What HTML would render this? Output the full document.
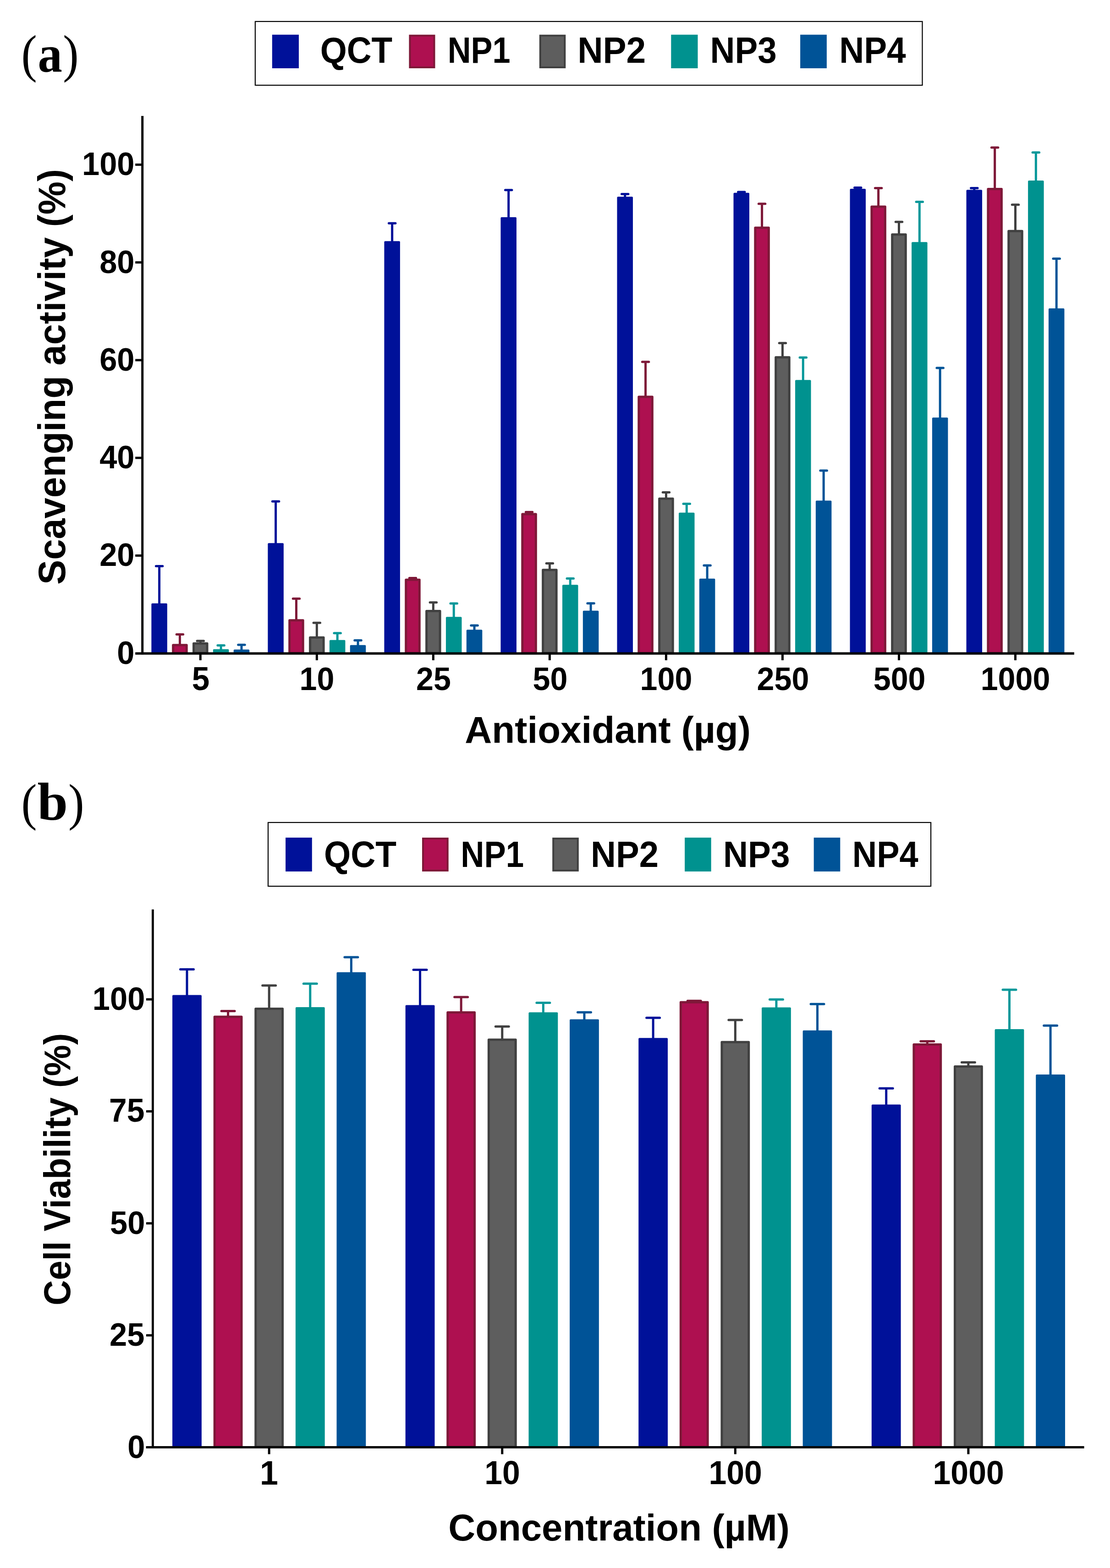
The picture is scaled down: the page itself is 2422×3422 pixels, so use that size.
<!DOCTYPE html>
<html><head><meta charset="utf-8"><title>Figure</title>
<style>html,body{margin:0;padding:0;background:#fff;}svg{display:block;}</style>
</head><body>
<svg width="2422" height="3422" viewBox="0 0 2422 3422">
<rect width="2422" height="3422" fill="#fff"/>
<path d="M347.60 1319.35V1235.45M340.35 1235.45H354.85" stroke="#001199" stroke-width="5" stroke-linecap="round" fill="none"/>
<rect x="330.35" y="1316.75" width="34.50" height="111.05" rx="2" fill="#001199"/>
<path d="M392.45 1407.75V1384.42M385.20 1384.42H399.70" stroke="#7E1838" stroke-width="5" stroke-linecap="round" fill="none"/>
<rect x="377.70" y="1407.65" width="29.50" height="17.65" fill="#AE1050" stroke="#7E1838" stroke-width="5" stroke-linejoin="round"/>
<path d="M437.30 1404.34V1398.71M430.05 1398.71H444.55" stroke="#404040" stroke-width="5" stroke-linecap="round" fill="none"/>
<rect x="422.55" y="1404.24" width="29.50" height="21.06" fill="#5E5E5E" stroke="#404040" stroke-width="5" stroke-linejoin="round"/>
<path d="M482.15 1419.27V1408.52M474.90 1408.52H489.40" stroke="#06989A" stroke-width="5" stroke-linecap="round" fill="none"/>
<rect x="464.90" y="1416.67" width="34.50" height="11.13" rx="2" fill="#00928F"/>
<path d="M527.00 1420.12V1407.35M519.75 1407.35H534.25" stroke="#005397" stroke-width="5" stroke-linecap="round" fill="none"/>
<rect x="509.75" y="1417.52" width="34.50" height="10.28" rx="2" fill="#005397"/>
<path d="M601.63 1187.86V1094.15M594.38 1094.15H608.88" stroke="#001199" stroke-width="5" stroke-linecap="round" fill="none"/>
<rect x="584.38" y="1185.26" width="34.50" height="242.54" rx="2" fill="#001199"/>
<path d="M646.48 1353.79V1306.47M639.23 1306.47H653.73" stroke="#7E1838" stroke-width="5" stroke-linecap="round" fill="none"/>
<rect x="631.73" y="1353.69" width="29.50" height="71.61" fill="#AE1050" stroke="#7E1838" stroke-width="5" stroke-linejoin="round"/>
<path d="M691.33 1391.33V1359.26M684.08 1359.26H698.58" stroke="#404040" stroke-width="5" stroke-linecap="round" fill="none"/>
<rect x="676.58" y="1391.23" width="29.50" height="34.07" fill="#5E5E5E" stroke="#404040" stroke-width="5" stroke-linejoin="round"/>
<path d="M736.18 1399.33V1381.76M728.93 1381.76H743.43" stroke="#06989A" stroke-width="5" stroke-linecap="round" fill="none"/>
<rect x="718.93" y="1396.73" width="34.50" height="31.07" rx="2" fill="#00928F"/>
<path d="M781.03 1410.31V1397.43M773.78 1397.43H788.28" stroke="#005397" stroke-width="5" stroke-linecap="round" fill="none"/>
<rect x="763.78" y="1407.71" width="34.50" height="20.09" rx="2" fill="#005397"/>
<path d="M855.66 528.82V487.37M848.41 487.37H862.91" stroke="#001199" stroke-width="5" stroke-linecap="round" fill="none"/>
<rect x="838.41" y="526.22" width="34.50" height="901.58" rx="2" fill="#001199"/>
<path d="M900.51 1265.28V1261.57M893.26 1261.57H907.76" stroke="#7E1838" stroke-width="5" stroke-linecap="round" fill="none"/>
<rect x="885.76" y="1265.18" width="29.50" height="160.12" fill="#AE1050" stroke="#7E1838" stroke-width="5" stroke-linejoin="round"/>
<path d="M945.36 1333.64V1314.79M938.11 1314.79H952.61" stroke="#404040" stroke-width="5" stroke-linecap="round" fill="none"/>
<rect x="930.61" y="1333.54" width="29.50" height="91.76" fill="#5E5E5E" stroke="#404040" stroke-width="5" stroke-linejoin="round"/>
<path d="M990.21 1348.78V1317.03M982.96 1317.03H997.46" stroke="#06989A" stroke-width="5" stroke-linecap="round" fill="none"/>
<rect x="972.96" y="1346.18" width="34.50" height="81.62" rx="2" fill="#00928F"/>
<path d="M1035.06 1376.93V1365.02M1027.81 1365.02H1042.31" stroke="#005397" stroke-width="5" stroke-linecap="round" fill="none"/>
<rect x="1017.81" y="1374.33" width="34.50" height="53.47" rx="2" fill="#005397"/>
<path d="M1109.69 476.57V414.85M1102.44 414.85H1116.94" stroke="#001199" stroke-width="5" stroke-linecap="round" fill="none"/>
<rect x="1092.44" y="473.97" width="34.50" height="953.83" rx="2" fill="#001199"/>
<path d="M1154.54 1122.17V1117.50M1147.29 1117.50H1161.79" stroke="#7E1838" stroke-width="5" stroke-linecap="round" fill="none"/>
<rect x="1139.79" y="1122.07" width="29.50" height="303.23" fill="#AE1050" stroke="#7E1838" stroke-width="5" stroke-linejoin="round"/>
<path d="M1199.39 1243.74V1229.48M1192.14 1229.48H1206.64" stroke="#404040" stroke-width="5" stroke-linecap="round" fill="none"/>
<rect x="1184.64" y="1243.64" width="29.50" height="181.66" fill="#5E5E5E" stroke="#404040" stroke-width="5" stroke-linejoin="round"/>
<path d="M1244.24 1278.93V1262.53M1236.99 1262.53H1251.49" stroke="#06989A" stroke-width="5" stroke-linecap="round" fill="none"/>
<rect x="1226.99" y="1276.33" width="34.50" height="151.47" rx="2" fill="#00928F"/>
<path d="M1289.09 1335.24V1316.71M1281.84 1316.71H1296.34" stroke="#005397" stroke-width="5" stroke-linecap="round" fill="none"/>
<rect x="1271.84" y="1332.64" width="34.50" height="95.16" rx="2" fill="#005397"/>
<path d="M1363.72 431.78V423.38M1356.47 423.38H1370.97" stroke="#001199" stroke-width="5" stroke-linecap="round" fill="none"/>
<rect x="1346.47" y="429.18" width="34.50" height="998.62" rx="2" fill="#001199"/>
<path d="M1408.57 866.13V789.80M1401.32 789.80H1415.82" stroke="#7E1838" stroke-width="5" stroke-linecap="round" fill="none"/>
<rect x="1393.82" y="866.03" width="29.50" height="559.27" fill="#AE1050" stroke="#7E1838" stroke-width="5" stroke-linejoin="round"/>
<path d="M1453.42 1088.36V1074.53M1446.17 1074.53H1460.67" stroke="#404040" stroke-width="5" stroke-linecap="round" fill="none"/>
<rect x="1438.67" y="1088.26" width="29.50" height="337.04" fill="#5E5E5E" stroke="#404040" stroke-width="5" stroke-linejoin="round"/>
<path d="M1498.27 1121.42V1099.48M1491.02 1099.48H1505.52" stroke="#06989A" stroke-width="5" stroke-linecap="round" fill="none"/>
<rect x="1481.02" y="1118.82" width="34.50" height="308.98" rx="2" fill="#00928F"/>
<path d="M1543.12 1265.28V1233.95M1535.87 1233.95H1550.37" stroke="#005397" stroke-width="5" stroke-linecap="round" fill="none"/>
<rect x="1525.87" y="1262.68" width="34.50" height="165.12" rx="2" fill="#005397"/>
<path d="M1617.75 423.25V419.12M1610.50 419.12H1625.00" stroke="#001199" stroke-width="5" stroke-linecap="round" fill="none"/>
<rect x="1600.50" y="420.65" width="34.50" height="1007.15" rx="2" fill="#001199"/>
<path d="M1662.60 497.05V444.71M1655.35 444.71H1669.85" stroke="#7E1838" stroke-width="5" stroke-linecap="round" fill="none"/>
<rect x="1647.85" y="496.95" width="29.50" height="928.35" fill="#AE1050" stroke="#7E1838" stroke-width="5" stroke-linejoin="round"/>
<path d="M1707.45 779.96V748.64M1700.20 748.64H1714.70" stroke="#404040" stroke-width="5" stroke-linecap="round" fill="none"/>
<rect x="1692.70" y="779.86" width="29.50" height="645.44" fill="#5E5E5E" stroke="#404040" stroke-width="5" stroke-linejoin="round"/>
<path d="M1752.30 831.90V780.31M1745.05 780.31H1759.55" stroke="#06989A" stroke-width="5" stroke-linecap="round" fill="none"/>
<rect x="1735.05" y="829.30" width="34.50" height="598.50" rx="2" fill="#00928F"/>
<path d="M1797.15 1095.19V1027.07M1789.90 1027.07H1804.40" stroke="#005397" stroke-width="5" stroke-linecap="round" fill="none"/>
<rect x="1779.90" y="1092.59" width="34.50" height="335.21" rx="2" fill="#005397"/>
<path d="M1871.78 414.72V409.52M1864.53 409.52H1879.03" stroke="#001199" stroke-width="5" stroke-linecap="round" fill="none"/>
<rect x="1854.53" y="412.12" width="34.50" height="1015.68" rx="2" fill="#001199"/>
<path d="M1916.63 450.98V410.59M1909.38 410.59H1923.88" stroke="#7E1838" stroke-width="5" stroke-linecap="round" fill="none"/>
<rect x="1901.88" y="450.88" width="29.50" height="974.42" fill="#AE1050" stroke="#7E1838" stroke-width="5" stroke-linejoin="round"/>
<path d="M1961.48 511.76V484.17M1954.23 484.17H1968.73" stroke="#404040" stroke-width="5" stroke-linecap="round" fill="none"/>
<rect x="1946.73" y="511.66" width="29.50" height="913.64" fill="#5E5E5E" stroke="#404040" stroke-width="5" stroke-linejoin="round"/>
<path d="M2006.33 530.96V440.45M1999.08 440.45H2013.58" stroke="#06989A" stroke-width="5" stroke-linecap="round" fill="none"/>
<rect x="1989.08" y="528.36" width="34.50" height="899.44" rx="2" fill="#00928F"/>
<path d="M2051.18 913.80V802.92M2043.93 802.92H2058.43" stroke="#005397" stroke-width="5" stroke-linecap="round" fill="none"/>
<rect x="2033.93" y="911.20" width="34.50" height="516.60" rx="2" fill="#005397"/>
<path d="M2125.81 416.85V410.59M2118.56 410.59H2133.06" stroke="#001199" stroke-width="5" stroke-linecap="round" fill="none"/>
<rect x="2108.56" y="414.25" width="34.50" height="1013.55" rx="2" fill="#001199"/>
<path d="M2170.66 412.59V322.08M2163.41 322.08H2177.91" stroke="#7E1838" stroke-width="5" stroke-linecap="round" fill="none"/>
<rect x="2155.91" y="412.49" width="29.50" height="1012.81" fill="#AE1050" stroke="#7E1838" stroke-width="5" stroke-linejoin="round"/>
<path d="M2215.51 504.30V446.84M2208.26 446.84H2222.76" stroke="#404040" stroke-width="5" stroke-linecap="round" fill="none"/>
<rect x="2200.76" y="504.20" width="29.50" height="921.10" fill="#5E5E5E" stroke="#404040" stroke-width="5" stroke-linejoin="round"/>
<path d="M2260.36 396.59V332.74M2253.11 332.74H2267.61" stroke="#06989A" stroke-width="5" stroke-linecap="round" fill="none"/>
<rect x="2243.11" y="393.99" width="34.50" height="1033.81" rx="2" fill="#00928F"/>
<path d="M2305.21 675.56V564.58M2297.96 564.58H2312.46" stroke="#005397" stroke-width="5" stroke-linecap="round" fill="none"/>
<rect x="2287.96" y="672.96" width="34.50" height="754.84" rx="2" fill="#005397"/>
<path d="M310.7 252.9V1428.2" stroke="#000" stroke-width="5" fill="none"/>
<path d="M295.2 1426.1H2343.9" stroke="#000" stroke-width="5.2" fill="none"/>
<path d="M295.2 1212.52H310" stroke="#000" stroke-width="5" fill="none"/>
<path d="M295.2 999.24H310" stroke="#000" stroke-width="5" fill="none"/>
<path d="M295.2 785.96H310" stroke="#000" stroke-width="5" fill="none"/>
<path d="M295.2 572.68H310" stroke="#000" stroke-width="5" fill="none"/>
<path d="M295.2 359.40H310" stroke="#000" stroke-width="5" fill="none"/>
<path d="M437.30 1425.8V1440.9" stroke="#000" stroke-width="5" fill="none"/>
<path d="M691.33 1425.8V1440.9" stroke="#000" stroke-width="5" fill="none"/>
<path d="M945.36 1425.8V1440.9" stroke="#000" stroke-width="5" fill="none"/>
<path d="M1199.39 1425.8V1440.9" stroke="#000" stroke-width="5" fill="none"/>
<path d="M1453.42 1425.8V1440.9" stroke="#000" stroke-width="5" fill="none"/>
<path d="M1707.45 1425.8V1440.9" stroke="#000" stroke-width="5" fill="none"/>
<path d="M1961.48 1425.8V1440.9" stroke="#000" stroke-width="5" fill="none"/>
<path d="M2215.51 1425.8V1440.9" stroke="#000" stroke-width="5" fill="none"/>
<text transform="translate(255.33,1448.69) scale(0.9685,1)" font-family='"Liberation Sans", Arial, sans-serif' font-weight="bold" font-size="70.90">0</text>
<text transform="translate(217.15,1235.41) scale(0.9685,1)" font-family='"Liberation Sans", Arial, sans-serif' font-weight="bold" font-size="70.90">20</text>
<text transform="translate(217.15,1022.13) scale(0.9685,1)" font-family='"Liberation Sans", Arial, sans-serif' font-weight="bold" font-size="70.90">40</text>
<text transform="translate(217.15,808.85) scale(0.9685,1)" font-family='"Liberation Sans", Arial, sans-serif' font-weight="bold" font-size="70.90">60</text>
<text transform="translate(217.15,595.57) scale(0.9685,1)" font-family='"Liberation Sans", Arial, sans-serif' font-weight="bold" font-size="70.90">80</text>
<text transform="translate(178.97,382.29) scale(0.9685,1)" font-family='"Liberation Sans", Arial, sans-serif' font-weight="bold" font-size="70.90">100</text>
<text transform="translate(418.75,1505.59) scale(0.9685,1)" font-family='"Liberation Sans", Arial, sans-serif' font-weight="bold" font-size="71.49">5</text>
<text transform="translate(653.43,1505.60) scale(0.9685,1)" font-family='"Liberation Sans", Arial, sans-serif' font-weight="bold" font-size="70.48">10</text>
<text transform="translate(907.97,1505.60) scale(0.9685,1)" font-family='"Liberation Sans", Arial, sans-serif' font-weight="bold" font-size="70.48">25</text>
<text transform="translate(1162.58,1505.60) scale(0.9685,1)" font-family='"Liberation Sans", Arial, sans-serif' font-weight="bold" font-size="70.48">50</text>
<text transform="translate(1396.54,1505.60) scale(0.9685,1)" font-family='"Liberation Sans", Arial, sans-serif' font-weight="bold" font-size="70.48">100</text>
<text transform="translate(1651.53,1505.60) scale(0.9685,1)" font-family='"Liberation Sans", Arial, sans-serif' font-weight="bold" font-size="70.48">250</text>
<text transform="translate(1905.69,1505.60) scale(0.9685,1)" font-family='"Liberation Sans", Arial, sans-serif' font-weight="bold" font-size="70.48">500</text>
<text transform="translate(2139.65,1505.60) scale(0.9685,1)" font-family='"Liberation Sans", Arial, sans-serif' font-weight="bold" font-size="70.48">1000</text>
<text transform="translate(142.00,1275.96) rotate(-90) scale(0.9636,1)" font-family='"Liberation Sans", Arial, sans-serif' font-weight="bold" font-size="84.28">Scavenging activity (%)</text>
<text transform="translate(1014.26,1621.40) scale(0.9929,1)" font-family='"Liberation Sans", Arial, sans-serif' font-weight="bold" font-size="82.34">Antioxidant (µg)</text>
<text transform="translate(46.48,156.46) scale(0.9028,1)" font-family='"Liberation Serif", "Times New Roman", serif' font-weight="normal" font-size="113.78">(</text>
<text transform="translate(82.39,155.86) scale(0.9354,1)" font-family='"Liberation Serif", "Times New Roman", serif' font-weight="bold" font-size="113.99">a</text>
<text transform="translate(137.19,156.46) scale(0.9097,1)" font-family='"Liberation Serif", "Times New Roman", serif' font-weight="normal" font-size="113.78">)</text>
<rect x="556.9" y="46.9" width="1455.6" height="139.1" fill="none" stroke="#000" stroke-width="2.2"/>
<rect x="593.8" y="75.7" width="58.2" height="73.3" fill="#001199"/>
<text transform="translate(698.64,137.40) scale(0.9422,1)" font-family='"Liberation Sans", Arial, sans-serif' font-weight="bold" font-size="79.23">QCT</text>
<rect x="894.4" y="77.7" width="53.1" height="69.3" fill="#AE1050" stroke="#7E1838" stroke-width="4"/>
<text transform="translate(976.79,137.40) scale(0.8749,1)" font-family='"Liberation Sans", Arial, sans-serif' font-weight="bold" font-size="80.38">NP1</text>
<rect x="1178.8" y="77.7" width="53.5" height="69.3" fill="#5E5E5E" stroke="#404040" stroke-width="4"/>
<text transform="translate(1260.17,137.40) scale(0.9669,1)" font-family='"Liberation Sans", Arial, sans-serif' font-weight="bold" font-size="79.23">NP2</text>
<rect x="1464.3" y="75.7" width="58.2" height="73.3" fill="#00928F"/>
<text transform="translate(1549.60,137.40) scale(0.9422,1)" font-family='"Liberation Sans", Arial, sans-serif' font-weight="bold" font-size="79.23">NP3</text>
<rect x="1746.1" y="75.7" width="57.8" height="73.3" fill="#005397"/>
<text transform="translate(1831.19,137.40) scale(0.9306,1)" font-family='"Liberation Sans", Arial, sans-serif' font-weight="bold" font-size="80.38">NP4</text>
<path d="M408.00 2174.20V2115.50M393.50 2115.50H422.50" stroke="#001199" stroke-width="5" stroke-linecap="round" fill="none"/>
<rect x="376.10" y="2171.60" width="63.80" height="989.00" rx="2" fill="#001199"/>
<path d="M497.60 2219.17V2206.42M483.10 2206.42H512.10" stroke="#7E1838" stroke-width="5" stroke-linecap="round" fill="none"/>
<rect x="468.20" y="2219.07" width="58.80" height="939.03" fill="#AE1050" stroke="#7E1838" stroke-width="5" stroke-linejoin="round"/>
<path d="M587.20 2201.57V2150.69M572.70 2150.69H601.70" stroke="#404040" stroke-width="5" stroke-linecap="round" fill="none"/>
<rect x="557.80" y="2201.47" width="58.80" height="956.63" fill="#5E5E5E" stroke="#404040" stroke-width="5" stroke-linejoin="round"/>
<path d="M676.80 2200.60V2146.78M662.30 2146.78H691.30" stroke="#06989A" stroke-width="5" stroke-linecap="round" fill="none"/>
<rect x="644.90" y="2198.00" width="63.80" height="962.60" rx="2" fill="#00928F"/>
<path d="M766.40 2124.34V2089.11M751.90 2089.11H780.90" stroke="#005397" stroke-width="5" stroke-linecap="round" fill="none"/>
<rect x="734.50" y="2121.74" width="63.80" height="1038.86" rx="2" fill="#005397"/>
<path d="M916.57 2196.00V2116.48M902.07 2116.48H931.07" stroke="#001199" stroke-width="5" stroke-linecap="round" fill="none"/>
<rect x="884.67" y="2193.40" width="63.80" height="967.20" rx="2" fill="#001199"/>
<path d="M1006.17 2209.59V2176.11M991.67 2176.11H1020.67" stroke="#7E1838" stroke-width="5" stroke-linecap="round" fill="none"/>
<rect x="976.77" y="2209.49" width="58.80" height="948.61" fill="#AE1050" stroke="#7E1838" stroke-width="5" stroke-linejoin="round"/>
<path d="M1095.77 2269.22V2240.34M1081.27 2240.34H1110.27" stroke="#404040" stroke-width="5" stroke-linecap="round" fill="none"/>
<rect x="1066.37" y="2269.12" width="58.80" height="888.98" fill="#5E5E5E" stroke="#404040" stroke-width="5" stroke-linejoin="round"/>
<path d="M1185.37 2211.94V2188.53M1170.87 2188.53H1199.87" stroke="#06989A" stroke-width="5" stroke-linecap="round" fill="none"/>
<rect x="1153.47" y="2209.34" width="63.80" height="951.26" rx="2" fill="#00928F"/>
<path d="M1274.97 2226.99V2209.35M1260.47 2209.35H1289.47" stroke="#005397" stroke-width="5" stroke-linecap="round" fill="none"/>
<rect x="1243.07" y="2224.39" width="63.80" height="936.21" rx="2" fill="#005397"/>
<path d="M1425.14 2267.76V2221.18M1410.64 2221.18H1439.64" stroke="#001199" stroke-width="5" stroke-linecap="round" fill="none"/>
<rect x="1393.24" y="2265.16" width="63.80" height="895.44" rx="2" fill="#001199"/>
<path d="M1514.74 2187.30V2184.23M1500.24 2184.23H1529.24" stroke="#7E1838" stroke-width="5" stroke-linecap="round" fill="none"/>
<rect x="1485.34" y="2187.20" width="58.80" height="970.90" fill="#AE1050" stroke="#7E1838" stroke-width="5" stroke-linejoin="round"/>
<path d="M1604.34 2274.41V2226.07M1589.84 2226.07H1618.84" stroke="#404040" stroke-width="5" stroke-linecap="round" fill="none"/>
<rect x="1574.94" y="2274.31" width="58.80" height="883.79" fill="#5E5E5E" stroke="#404040" stroke-width="5" stroke-linejoin="round"/>
<path d="M1693.94 2201.18V2181.29M1679.44 2181.29H1708.44" stroke="#06989A" stroke-width="5" stroke-linecap="round" fill="none"/>
<rect x="1662.04" y="2198.58" width="63.80" height="962.02" rx="2" fill="#00928F"/>
<path d="M1783.54 2251.33V2191.36M1769.04 2191.36H1798.04" stroke="#005397" stroke-width="5" stroke-linecap="round" fill="none"/>
<rect x="1751.64" y="2248.73" width="63.80" height="911.87" rx="2" fill="#005397"/>
<path d="M1933.71 2413.22V2375.35M1919.21 2375.35H1948.21" stroke="#001199" stroke-width="5" stroke-linecap="round" fill="none"/>
<rect x="1901.81" y="2410.62" width="63.80" height="749.98" rx="2" fill="#001199"/>
<path d="M2023.31 2279.59V2272.41M2008.81 2272.41H2037.81" stroke="#7E1838" stroke-width="5" stroke-linecap="round" fill="none"/>
<rect x="1993.91" y="2279.49" width="58.80" height="878.61" fill="#AE1050" stroke="#7E1838" stroke-width="5" stroke-linejoin="round"/>
<path d="M2112.91 2327.68V2318.45M2098.41 2318.45H2127.41" stroke="#404040" stroke-width="5" stroke-linecap="round" fill="none"/>
<rect x="2083.51" y="2327.58" width="58.80" height="830.52" fill="#5E5E5E" stroke="#404040" stroke-width="5" stroke-linejoin="round"/>
<path d="M2202.51 2248.60V2160.08M2188.01 2160.08H2217.01" stroke="#06989A" stroke-width="5" stroke-linecap="round" fill="none"/>
<rect x="2170.61" y="2246.00" width="63.80" height="914.60" rx="2" fill="#00928F"/>
<path d="M2292.11 2347.63V2238.19M2277.61 2238.19H2306.61" stroke="#005397" stroke-width="5" stroke-linecap="round" fill="none"/>
<rect x="2260.21" y="2345.03" width="63.80" height="815.57" rx="2" fill="#005397"/>
<path d="M333.4 1984.8V3161" stroke="#000" stroke-width="4.8" fill="none"/>
<path d="M318.6 3158.6H2365.6" stroke="#000" stroke-width="5" fill="none"/>
<path d="M318.9 2914.20H333" stroke="#000" stroke-width="5" fill="none"/>
<path d="M318.9 2669.80H333" stroke="#000" stroke-width="5" fill="none"/>
<path d="M318.9 2425.40H333" stroke="#000" stroke-width="5" fill="none"/>
<path d="M318.9 2181.00H333" stroke="#000" stroke-width="5" fill="none"/>
<path d="M587.20 3158.6V3173.6" stroke="#000" stroke-width="5" fill="none"/>
<path d="M1095.77 3158.6V3173.6" stroke="#000" stroke-width="5" fill="none"/>
<path d="M1604.34 3158.6V3173.6" stroke="#000" stroke-width="5" fill="none"/>
<path d="M2112.91 3158.6V3173.6" stroke="#000" stroke-width="5" fill="none"/>
<text transform="translate(278.13,3181.69) scale(0.9685,1)" font-family='"Liberation Sans", Arial, sans-serif' font-weight="bold" font-size="70.90">0</text>
<text transform="translate(239.06,2937.29) scale(0.9685,1)" font-family='"Liberation Sans", Arial, sans-serif' font-weight="bold" font-size="70.90">25</text>
<text transform="translate(239.95,2692.89) scale(0.9685,1)" font-family='"Liberation Sans", Arial, sans-serif' font-weight="bold" font-size="70.90">50</text>
<text transform="translate(237.99,2448.48) scale(0.9685,1)" font-family='"Liberation Sans", Arial, sans-serif' font-weight="bold" font-size="71.92">75</text>
<text transform="translate(201.77,2204.09) scale(0.9685,1)" font-family='"Liberation Sans", Arial, sans-serif' font-weight="bold" font-size="70.90">100</text>
<text transform="translate(566.99,3240.20) scale(0.9685,1)" font-family='"Liberation Sans", Arial, sans-serif' font-weight="bold" font-size="74.13">1</text>
<text transform="translate(1057.21,3239.48) scale(0.9685,1)" font-family='"Liberation Sans", Arial, sans-serif' font-weight="bold" font-size="72.03">10</text>
<text transform="translate(1546.39,3239.48) scale(0.9685,1)" font-family='"Liberation Sans", Arial, sans-serif' font-weight="bold" font-size="72.03">100</text>
<text transform="translate(2035.56,3239.48) scale(0.9685,1)" font-family='"Liberation Sans", Arial, sans-serif' font-weight="bold" font-size="72.03">1000</text>
<text transform="translate(153.00,2849.04) rotate(-90) scale(0.9330,1)" font-family='"Liberation Sans", Arial, sans-serif' font-weight="bold" font-size="82.07">Cell Viability (%)</text>
<text transform="translate(978.26,3361.80) scale(0.9938,1)" font-family='"Liberation Sans", Arial, sans-serif' font-weight="bold" font-size="82.07">Concentration (µM)</text>
<text transform="translate(46.51,1788.77) scale(0.9074,1)" font-family='"Liberation Serif", "Times New Roman", serif' font-weight="normal" font-size="112.35">(</text>
<text transform="translate(81.54,1788.93) scale(1.0238,1)" font-family='"Liberation Serif", "Times New Roman", serif' font-weight="bold" font-size="116.90">b</text>
<text transform="translate(148.96,1788.77) scale(0.9282,1)" font-family='"Liberation Serif", "Times New Roman", serif' font-weight="normal" font-size="112.35">)</text>
<rect x="585.0" y="1795.0" width="1446.1" height="139.1" fill="none" stroke="#000" stroke-width="2.2"/>
<rect x="623.1" y="1828.0" width="57.7" height="73.9" fill="#001199"/>
<text transform="translate(706.93,1892.20) scale(0.9436,1)" font-family='"Liberation Sans", Arial, sans-serif' font-weight="bold" font-size="79.37">QCT</text>
<rect x="923.0" y="1830.0" width="53.7" height="69.9" fill="#AE1050" stroke="#7E1838" stroke-width="4"/>
<text transform="translate(1005.35,1892.20) scale(0.8807,1)" font-family='"Liberation Sans", Arial, sans-serif' font-weight="bold" font-size="80.52">NP1</text>
<rect x="1207.2" y="1830.0" width="53.6" height="69.9" fill="#5E5E5E" stroke="#404040" stroke-width="4"/>
<text transform="translate(1289.10,1892.20) scale(0.9583,1)" font-family='"Liberation Sans", Arial, sans-serif' font-weight="bold" font-size="79.37">NP2</text>
<rect x="1494.1" y="1828.0" width="57.6" height="73.9" fill="#00928F"/>
<text transform="translate(1578.09,1892.20) scale(0.9419,1)" font-family='"Liberation Sans", Arial, sans-serif' font-weight="bold" font-size="79.37">NP3</text>
<rect x="1775.7" y="1828.0" width="57.6" height="73.9" fill="#005397"/>
<text transform="translate(1859.74,1892.20) scale(0.9196,1)" font-family='"Liberation Sans", Arial, sans-serif' font-weight="bold" font-size="80.52">NP4</text>
</svg>
</body></html>
